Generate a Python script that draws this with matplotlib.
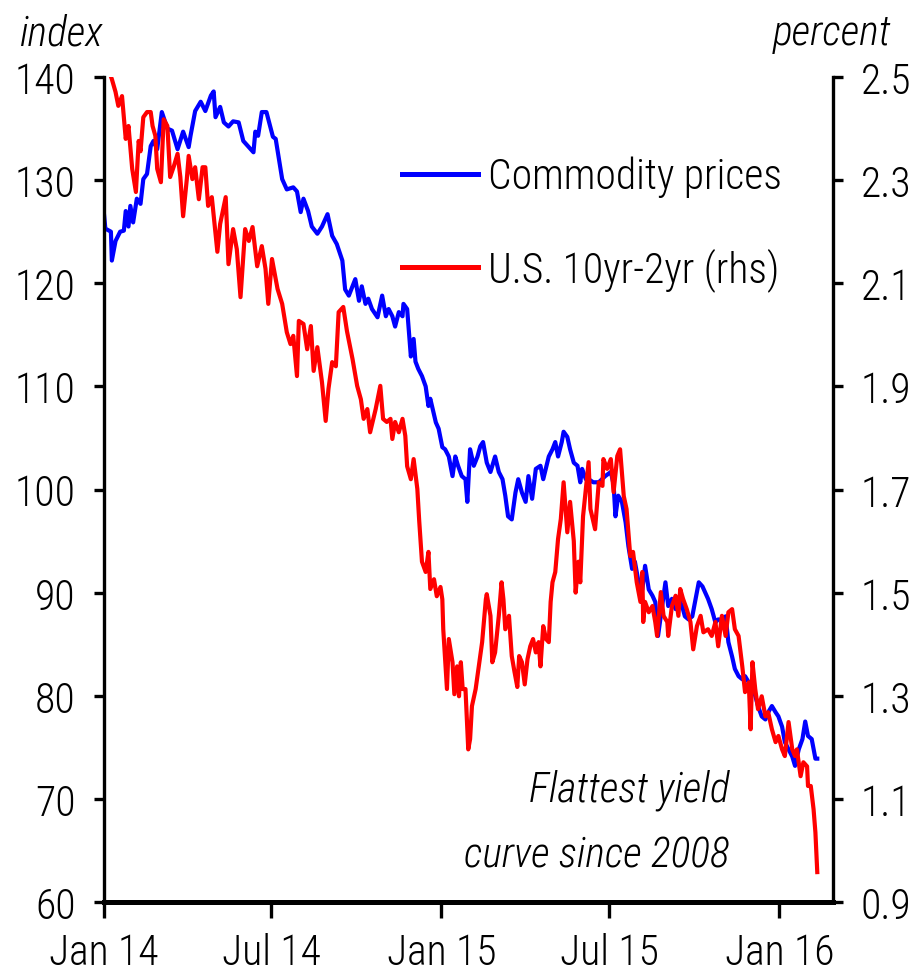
import numpy as np
import pandas as pd
import matplotlib
matplotlib.use("Agg")
import matplotlib.pyplot as plt
import matplotlib.font_manager as fm
from matplotlib.lines import Line2D

# days since 2014-01-01, commodity price index (lhs)
blue_days = [0, 2, 8, 9, 13, 18, 22, 24, 27, 29, 32, 36, 40, 43, 47, 51, 54, 58, 63, 69, 74, 80, 86, 92, 94, 99,
             105, 110, 116, 119, 121, 126, 130, 135, 140, 146, 151, 157, 162, 164, 167, 171, 176, 183, 186, 193,
             198, 205, 209, 213, 216, 221, 225, 231, 236, 242, 247, 252, 258, 261, 265, 272, 276, 279, 283, 286,
             290, 296, 301, 305, 308, 312, 315, 319, 323, 324, 328, 332, 335, 337, 340, 344, 348, 351, 353, 359,
             362, 366, 369, 373, 377, 380, 383, 387, 391, 393, 396, 400, 404, 407, 410, 414, 418, 423, 427, 431,
             434, 437, 441, 445, 448, 452, 456, 459, 463, 467, 472, 475, 481, 485, 488, 491, 495, 497, 501, 504,
             508, 512, 515, 517, 521, 524, 529, 535, 542, 548, 551, 553, 556, 560, 564, 567, 571, 574, 578, 582,
             585, 589, 593, 596, 599, 603, 607, 610, 614, 618, 621, 625, 628, 632, 636, 639, 643, 647, 650, 653,
             657, 661, 664, 668, 672, 675, 679, 682, 686, 690, 693, 697, 701, 704, 707, 711, 715, 718, 722, 726,
             729, 733, 736, 740, 744, 747, 751, 755, 758, 761, 765, 769, 771]
blue_vals = [127.2, 125.3, 125.0, 122.2, 124.1, 125.0, 125.1, 127.0, 125.5, 127.5, 125.9, 128.2, 127.7, 130.1,
             130.6, 133.3, 133.8, 133.0, 136.6, 135.0, 134.8, 133.0, 134.7, 133.2, 134.3, 136.7, 137.6, 136.7,
             138.2, 138.6, 136.1, 137.1, 135.6, 135.2, 135.7, 135.6, 133.8, 133.2, 132.7, 134.7, 134.3, 136.6,
             136.6, 134.2, 134.0, 130.1, 129.1, 129.3, 128.9, 126.9, 128.2, 127.0, 125.5, 124.8, 125.5, 126.7,
             124.6, 123.8, 122.2, 119.4, 118.8, 120.4, 118.3, 119.7, 118.0, 118.5, 117.5, 116.7, 118.8, 116.8,
             117.5, 116.8, 115.8, 117.2, 116.8, 118.0, 117.5, 112.9, 114.6, 112.4, 111.7, 111.0, 110.0, 108.1,
             108.8, 106.5, 105.9, 104.1, 103.9, 103.2, 101.3, 103.2, 102.3, 101.3, 101.0, 98.8, 103.9, 102.3,
             103.2, 104.2, 104.6, 102.6, 101.7, 103.2, 101.7, 101.0, 99.4, 97.4, 97.1, 99.7, 101.0, 99.7, 98.8,
             101.3, 99.1, 102.0, 102.3, 101.0, 103.2, 103.9, 104.6, 103.2, 104.6, 105.6, 105.1, 103.9, 102.6,
             102.3, 100.7, 102.0, 101.0, 101.0, 100.7, 100.7, 101.3, 101.7, 100.5, 97.4, 99.4, 98.8, 96.8, 94.5,
             92.3, 93.0, 91.0, 90.3, 92.6, 90.3, 89.7, 89.1, 85.8, 88.4, 91.0, 88.7, 89.4, 88.4, 89.4, 88.7, 87.7,
             87.4, 87.7, 89.1, 91.0, 90.6, 90.0, 89.4, 88.4, 87.1, 87.4, 87.4, 87.7, 85.2, 83.8, 82.6, 81.9, 81.6,
             81.9, 81.3, 80.6, 80.0, 79.0, 78.0, 77.7, 78.4, 79.0, 78.4, 78.0, 77.0, 75.5, 74.8, 74.1, 73.2, 74.8,
             75.8, 77.5, 76.1, 75.8, 73.9, 73.9]

# days since 2014-01-01, US 10yr-2yr spread in percent (rhs)
red_days = [0, 4, 9, 13, 16, 20, 24, 27, 31, 35, 38, 40, 43, 47, 51, 53, 56, 58, 62, 65, 69, 72, 76, 80, 83, 86,
            90, 92, 96, 99, 103, 107, 110, 113, 117, 123, 126, 132, 135, 140, 144, 148, 153, 157, 161, 166, 171,
            175, 178, 182, 188, 193, 198, 202, 205, 209, 211, 216, 220, 224, 227, 231, 236, 240, 243, 247, 251,
            254, 259, 263, 269, 274, 278, 281, 285, 288, 294, 299, 302, 306, 310, 312, 315, 319, 323, 326, 328,
            332, 335, 339, 341, 344, 348, 351, 353, 357, 360, 364, 366, 367, 371, 373, 377, 379, 382, 384, 386,
            388, 391, 394, 396, 398, 402, 405, 409, 413, 414, 418, 420, 423, 427, 430, 432, 434, 438, 441, 444,
            447, 449, 452, 455, 458, 461, 464, 467, 470, 472, 475, 478, 481, 483, 485, 488, 491, 494, 497, 501,
            504, 508, 510, 513, 515, 518, 521, 524, 526, 531, 535, 539, 540, 544, 548, 551, 555, 558, 562, 565,
            569, 572, 576, 580, 582, 583, 585, 589, 593, 596, 598, 602, 605, 609, 610, 614, 618, 621, 623, 626,
            630, 634, 637, 641, 645, 648, 653, 657, 661, 664, 668, 672, 675, 679, 682, 686, 690, 693, 697, 699,
            701, 704, 707, 711, 715, 718, 722, 726, 729, 733, 736, 740, 744, 747, 749, 753, 756, 760, 761, 764,
            767, 769, 771]
red_vals = [2.60, 2.52, 2.496, 2.471, 2.444, 2.463, 2.380, 2.405, 2.322, 2.277, 2.376, 2.356, 2.422, 2.432, 2.432,
            2.405, 2.386, 2.322, 2.296, 2.418, 2.405, 2.306, 2.327, 2.351, 2.306, 2.230, 2.302, 2.347, 2.302,
            2.325, 2.263, 2.325, 2.325, 2.250, 2.267, 2.161, 2.215, 2.267, 2.137, 2.205, 2.166, 2.073, 2.205,
            2.182, 2.209, 2.133, 2.172, 2.128, 2.060, 2.147, 2.089, 2.060, 2.005, 1.982, 1.998, 1.920, 2.027,
            2.021, 1.972, 2.017, 1.930, 1.976, 1.908, 1.833, 1.895, 1.947, 1.939, 2.044, 2.054, 2.007, 1.953,
            1.901, 1.875, 1.837, 1.856, 1.811, 1.856, 1.901, 1.837, 1.831, 1.837, 1.798, 1.831, 1.811, 1.837,
            1.804, 1.745, 1.720, 1.759, 1.701, 1.640, 1.560, 1.540, 1.579, 1.507, 1.526, 1.493, 1.511, 1.487,
            1.429, 1.313, 1.410, 1.365, 1.303, 1.357, 1.299, 1.365, 1.313, 1.313, 1.196, 1.216, 1.280, 1.313,
            1.352, 1.404, 1.487, 1.497, 1.455, 1.365, 1.384, 1.455, 1.520, 1.487, 1.429, 1.455, 1.377, 1.346,
            1.317, 1.377, 1.365, 1.322, 1.371, 1.396, 1.410, 1.384, 1.404, 1.357, 1.435, 1.410, 1.404, 1.482,
            1.520, 1.540, 1.604, 1.643, 1.714, 1.617, 1.676, 1.600, 1.500, 1.560, 1.520, 1.648, 1.701, 1.753,
            1.662, 1.623, 1.714, 1.707, 1.759, 1.740, 1.759, 1.695, 1.765, 1.778, 1.687, 1.662, 1.571, 1.579,
            1.520, 1.482, 1.540, 1.443, 1.482, 1.462, 1.474, 1.443, 1.416, 1.501, 1.455, 1.443, 1.416, 1.474,
            1.494, 1.455, 1.507, 1.488, 1.468, 1.443, 1.390, 1.435, 1.455, 1.423, 1.429, 1.416, 1.443, 1.396,
            1.455, 1.416, 1.462, 1.468, 1.429, 1.416, 1.357, 1.307, 1.326, 1.235, 1.365, 1.313, 1.274, 1.299,
            1.260, 1.268, 1.235, 1.210, 1.222, 1.196, 1.183, 1.249, 1.196, 1.183, 1.196, 1.144, 1.171, 1.163,
            1.125, 1.125, 1.080, 1.035, 0.958]

xtick_dates = ["2014-01-01", "2014-07-01", "2015-01-01", "2015-07-01", "2016-01-01"]
xtick_labels = ["Jan 14", "Jul 14", "Jan 15", "Jul 15", "Jan 16"]
left_ticks = [60, 70, 80, 90, 100, 110, 120, 130, 140]
right_ticks = [0.9, 1.1, 1.3, 1.5, 1.7, 1.9, 2.1, 2.3, 2.5]

# pick a narrow font if there is one
names = {f.name for f in fm.fontManager.ttflist}
font = "DejaVu Sans"
for cand in ["Liberation Sans Narrow", "Roboto Condensed", "Open Sans Condensed", "Roboto", "Liberation Sans"]:
    if cand in names:
        font = cand
        break
plt.rcParams["font.family"] = [font, "DejaVu Sans"]
plt.rcParams["font.stretch"] = "condensed"
plt.rcParams["font.weight"] = "light"

FS = 30
start = pd.Timestamp("2014-01-01")
blue_x = start + pd.to_timedelta(blue_days, unit="D")
red_x = start + pd.to_timedelta(red_days, unit="D")

fig = plt.figure(figsize=(9.22, 9.78), dpi=100)
ax = fig.add_axes([103.5 / 922, 75 / 978, (833 - 103.5) / 922, (903 - 78) / 978])
ax2 = ax.twinx()

ax.plot(blue_x, blue_vals, color="#0000ff", lw=3.0, solid_joinstyle="round")
ax2.plot(red_x, red_vals, color="#ff0000", lw=3.0, solid_joinstyle="round")

ax.set_xlim(start, pd.Timestamp("2016-02-28"))
ax.set_ylim(60, 140)
ax2.set_ylim(0.9, 2.5)
ax.set_xticks(pd.to_datetime(xtick_dates))
ax.set_xticklabels(xtick_labels)
ax.set_yticks(left_ticks)
ax.set_yticklabels([str(t) for t in left_ticks])
ax2.set_yticks(right_ticks)
ax2.set_yticklabels([f"{t:.1f}" for t in right_ticks])

for a in (ax, ax2):
    a.spines["top"].set_visible(False)
ax.spines["right"].set_visible(False)
ax2.spines["left"].set_visible(False)
ax2.spines["bottom"].set_visible(False)
ax.spines["left"].set_linewidth(2.4)
ax.spines["bottom"].set_linewidth(3.6)
ax2.spines["right"].set_linewidth(2.4)

ax.tick_params(axis="y", direction="out", length=7, width=2.4, labelsize=FS, pad=13)
ax.tick_params(axis="x", direction="out", length=11.5, width=2.4, labelsize=FS, pad=10)
ax2.tick_params(axis="y", direction="out", length=7, width=2.4, labelsize=FS, pad=13)

handles = [Line2D([], [], color="#0000ff", lw=3.6), Line2D([], [], color="#ff0000", lw=3.6)]
ax2.legend(handles, ["Commodity prices", "U.S. 10yr-2yr (rhs)"], loc="upper left",
           bbox_to_anchor=(402 / 922, 1 - 157 / 978), bbox_transform=fig.transFigure,
           frameon=False, fontsize=FS, handlelength=1.82, handletextpad=0.25,
           labelspacing=1.2, borderpad=0, borderaxespad=0)

fig.text(20 / 922, 1 - 45 / 978, "index", fontsize=FS, style="italic", ha="left", va="baseline")
fig.text(891 / 922, 1 - 45 / 978, "percent", fontsize=FS, style="italic", ha="right", va="baseline")
fig.text(729 / 922, 1 - 802 / 978, "Flattest yield", fontsize=FS, style="italic", ha="right", va="baseline")
fig.text(729 / 922, 1 - 868 / 978, "curve since 2008", fontsize=FS, style="italic", ha="right", va="baseline")

fig.savefig("out.png", dpi=100)
